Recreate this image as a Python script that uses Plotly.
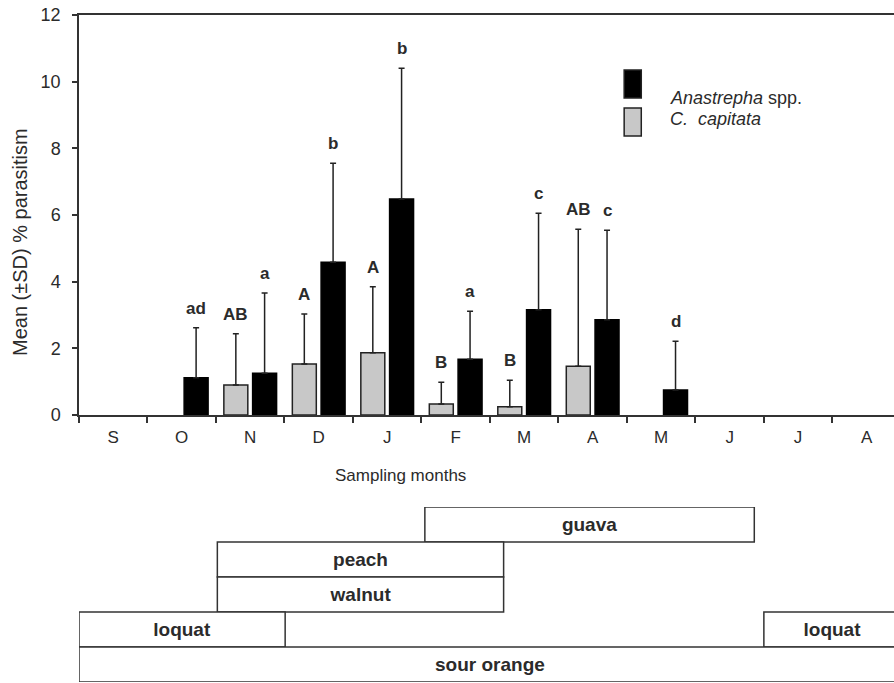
import plotly.graph_objects as go
import numpy as np

months = ["S", "O", "N", "D", "J", "F", "M", "A", "M", "J", "J", "A"]

# C. capitata (grey bars)
cap_mean = [None, None, 0.90, 1.53, 1.87, 0.33, 0.25, 1.46, None, None, None, None]
cap_sd = [None, None, 1.54, 1.50, 1.98, 0.65, 0.79, 4.11, None, None, None, None]
cap_letters = ["", "", "AB", "A", "A", "B", "B", "AB", "", "", "", ""]

# Anastrepha spp. (black bars)
ana_mean = [None, 1.12, 1.25, 4.58, 6.48, 1.67, 3.16, 2.86, 0.75, None, None, None]
ana_sd = [None, 1.50, 2.41, 2.97, 3.92, 1.44, 2.89, 2.68, 1.46, None, None, None]
ana_letters = ["", "ad", "a", "b", "b", "a", "c", "c", "d", "", "", ""]

# Host fruit availability (months from start of September)
fruit_names = ["guava", "peach", "walnut", "loquat", "loquat", "sour orange"]
fruit_rows = [4, 3, 2, 1, 1, 0]
fruit_start = [5.05, 2.02, 2.02, 0.0, 10.0, 0.0]
fruit_end = [9.86, 6.2, 6.2, 3.01, 12.0, 12.0]

FONT = "Liberation Sans, Arial, sans-serif"
TXT = "#2b2b2b"
LINE = "#333333"

xc = np.arange(len(months)) + 0.5
GAP = 0.21  # half distance between grouped bar centres

fig = go.Figure()
fig.add_trace(go.Bar(
    x=xc, y=cap_mean, name="C. capitata",
    marker=dict(color="#c8c8c8", line=dict(color="#222222", width=1.5)),
    error_y=dict(type="data", array=cap_sd, symmetric=False,
                 arrayminus=[0] * 12, color="#222222", thickness=1.5, width=3),
    showlegend=False,
))
fig.add_trace(go.Bar(
    x=xc, y=ana_mean, name="Anastrepha spp.",
    marker=dict(color="#000000", line=dict(color="#000000", width=1.5)),
    error_y=dict(type="data", array=ana_sd, symmetric=False,
                 arrayminus=[0] * 12, color="#222222", thickness=1.5, width=3),
    showlegend=False,
))

# Host fruit boxes on the lower axis
fig.add_trace(go.Bar(
    orientation="h",
    y=fruit_rows,
    base=fruit_start,
    x=[e - s for s, e in zip(fruit_start, fruit_end)],
    width=1,
    text=["<b>%s</b>" % n for n in fruit_names],
    textposition="inside",
    insidetextanchor="middle",
    constraintext="none",
    textangle=0,
    textfont=dict(family=FONT, size=19, color=TXT),
    marker=dict(color="white", line=dict(color=LINE, width=1.5)),
    xaxis="x2", yaxis="y2",
    showlegend=False,
    hoverinfo="skip",
))

annotations = []
for i in range(len(months)):
    if cap_mean[i] is not None and cap_letters[i]:
        annotations.append(dict(
            x=xc[i] - GAP, y=cap_mean[i] + cap_sd[i], xref="x", yref="y",
            text="<b>%s</b>" % cap_letters[i], showarrow=False,
            xanchor="center", yanchor="bottom", yshift=8,
            font=dict(family=FONT, size=17, color=TXT)))
    if ana_mean[i] is not None and ana_letters[i]:
        annotations.append(dict(
            x=xc[i] + GAP, y=ana_mean[i] + ana_sd[i], xref="x", yref="y",
            text="<b>%s</b>" % ana_letters[i], showarrow=False,
            xanchor="center", yanchor="bottom", yshift=8,
            font=dict(family=FONT, size=17, color=TXT)))

# legend (drawn manually to match the tall swatches)
annotations.append(dict(x=8.60, y=9.52, xref="x", yref="y", xanchor="left",
                        yanchor="middle", showarrow=False,
                        text="<i>Anastrepha</i> spp.",
                        font=dict(family=FONT, size=18, color=TXT)))
annotations.append(dict(x=8.60, y=8.87, xref="x", yref="y", xanchor="left",
                        yanchor="middle", showarrow=False,
                        text="<i>C.  capitata</i>",
                        font=dict(family=FONT, size=18, color=TXT)))

# axis titles
annotations.append(dict(x=-0.0724, y=5.19, xref="paper", yref="y",
                        xanchor="center", yanchor="middle",
                        textangle=-90, showarrow=False,
                        text="Mean (±SD) % parasitism",
                        font=dict(family=FONT, size=20, color=TXT)))
annotations.append(dict(x=4.70, y=0.310, xref="x", yref="paper",
                        xanchor="center", yanchor="middle",
                        showarrow=False, text="Sampling months",
                        font=dict(family=FONT, size=17, color=TXT)))

shapes = [
    dict(type="rect", xref="x", yref="y", x0=7.96, x1=8.21, y0=9.51, y1=10.35,
         fillcolor="black", line=dict(color="#222222", width=1.5)),
    dict(type="rect", xref="x", yref="y", x0=7.96, x1=8.21, y0=8.37, y1=9.21,
         fillcolor="#c8c8c8", line=dict(color="#222222", width=1.5)),
]

fig.update_layout(
    template="none",
    width=894, height=683,
    margin=dict(l=79, r=0, t=15, b=1, autoexpand=False),
    paper_bgcolor="white", plot_bgcolor="white",
    barmode="group", bargap=0.16, bargroupgap=0.1667,
    font=dict(family=FONT, size=17, color=TXT),
    annotations=annotations,
    shapes=shapes,
    xaxis=dict(
        domain=[0, 1], range=[0, 11.9],
        tickmode="array", tickvals=xc, ticktext=months,
        ticks="", showline=True, linecolor=LINE, linewidth=1.5,
        mirror=True, showgrid=False, zeroline=False, automargin=False,
        tickfont=dict(size=17, color=TXT), ticklabelstandoff=6,
        minor=dict(tickmode="array", tickvals=list(range(12)), ticks="outside",
                   ticklen=6, tickwidth=1.5, tickcolor=LINE, showgrid=False),
        anchor="y",
    ),
    yaxis=dict(
        domain=[0.4003, 1], range=[0, 12], dtick=2, tick0=0, tickmode="linear",
        ticks="outside", ticklen=5, tickwidth=1.5, tickcolor=LINE,
        showline=True, linecolor=LINE, linewidth=1.5, automargin=False,
        showgrid=False, zeroline=False,
        tickfont=dict(size=18, color=TXT), ticklabelstandoff=8,
    ),
    xaxis2=dict(domain=[0, 1], matches="x", anchor="y2", visible=False,
                automargin=False),
    yaxis2=dict(domain=[0, 0.2624], range=[-0.5, 4.5], anchor="x2",
                visible=False, automargin=False),
)

fig.write_html("out.html")
